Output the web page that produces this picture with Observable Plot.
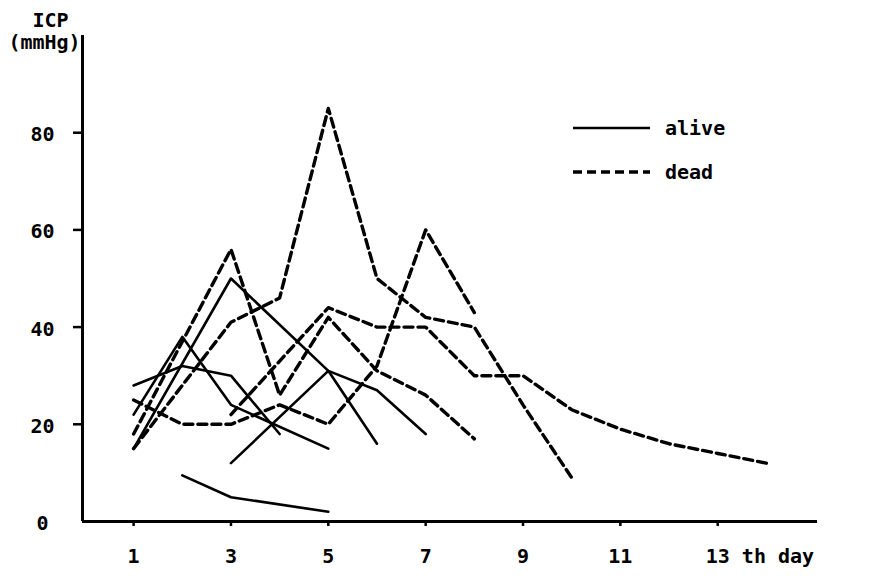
<!DOCTYPE html>
<html>
<head>
<meta charset="utf-8">
<script src="https://cdn.jsdelivr.net/npm/d3@7"></script>
<script src="https://cdn.jsdelivr.net/npm/@observablehq/plot@0.6"></script>
<style>
  body { margin: 0; background: #fff; }
  #wrap { position: relative; width: 870px; height: 578px; font-family: 'DejaVu Sans Mono', monospace; }
  .lg { position: absolute; display: flex; align-items: center; height: 20px; font-size: 20px; font-weight: bold; color: #000; }
  .lg svg { margin-right: 15px; }
</style>
</head>
<body>
<div id="wrap"></div>
<script>
const FONT = "'DejaVu Sans Mono', monospace";

// tick labels / text
const yTickValues = [0, 20, 40, 60, 80];
const yTickMarks = [20, 40, 60, 80];
const xTickValues = [1, 3, 5, 7, 9, 11];
const lastTickDay = 13;
const lastTickLabel = "13 th day";
const yTitleTop = "ICP";
const yTitleBottom = "(mmHg)";
const legendLabels = ["alive", "dead"];

// alive patients (solid lines)
const alive1Days = [1, 2, 3, 4];    const alive1ICP = [28, 32, 30, 18];
const alive2Days = [1, 2, 3, 5];    const alive2ICP = [22, 38, 24, 15];
const alive3Days = [1, 3, 5, 6];    const alive3ICP = [15, 50, 31, 16];
const alive4Days = [3, 5, 6, 7];    const alive4ICP = [12, 31, 27, 18];
const alive5Days = [2, 3, 5];       const alive5ICP = [9.5, 5, 2];

// dead patients (dashed lines)
const dead1Days = [1, 2, 3, 4, 5, 6, 7, 8];           const dead1ICP = [25, 20, 20, 24, 20, 32, 60, 43];
const dead2Days = [1, 3, 4, 5, 6, 7, 8, 9, 10];       const dead2ICP = [15, 41, 46, 85, 50, 42, 40, 24, 9];
const dead3Days = [1, 3, 4, 5, 6, 7, 8];              const dead3ICP = [18, 56, 26, 42, 31, 26, 17];
const dead4Days = [3, 5, 6, 7, 8, 9, 10, 11, 12, 13, 14]; const dead4ICP = [22, 44, 40, 40, 30, 30, 23, 19, 16, 14, 12];

const aliveSeries = [[alive1Days, alive1ICP], [alive2Days, alive2ICP], [alive3Days, alive3ICP], [alive4Days, alive4ICP], [alive5Days, alive5ICP]];
const deadSeries = [[dead1Days, dead1ICP], [dead2Days, dead2ICP], [dead3Days, dead3ICP], [dead4Days, dead4ICP]];

function toRows(list, tag) {
  return list.flatMap(([days, vals], i) => days.map((d, j) => ({day: d, icp: vals[j], id: tag + i})));
}
const aliveRows = toRows(aliveSeries, "a");
const deadRows = toRows(deadSeries, "d");

const W = 870, H = 578, ML = 82, MR = 53, MT = 35, MB = 57;
const frameW = W - ML - MR, frameH = H - MT - MB;
const xDomain = [-0.05, 15.05];
const yDomain = [0, 100];
const DASH = "9,5";
const XTICK = 5, YTICK = 9;

const chart = Plot.plot({
  width: W,
  height: H,
  marginLeft: ML,
  marginRight: MR,
  marginTop: MT,
  marginBottom: MB,
  x: {domain: xDomain, axis: null},
  y: {domain: yDomain, axis: null},
  style: {fontFamily: FONT, background: "white", color: "black"},
  marks: [
    // outward tick marks
    Plot.ruleX([...xTickValues, lastTickDay], {x: d => d, insetTop: frameH - XTICK, dy: XTICK, stroke: "black", strokeWidth: 2.5}),
    Plot.ruleY(yTickMarks, {y: d => d, insetRight: frameW - YTICK, dx: -YTICK, stroke: "black", strokeWidth: 2.5}),
    // axis lines
    Plot.ruleX([xDomain[0]], {stroke: "black", strokeWidth: 3}),
    Plot.ruleY([0], {stroke: "black", strokeWidth: 3}),
    // data
    Plot.line(aliveRows, {x: "day", y: "icp", z: "id", stroke: "black", strokeWidth: 2.6}),
    Plot.line(deadRows, {x: "day", y: "icp", z: "id", stroke: "black", strokeWidth: 3.4, strokeDasharray: DASH}),
    // labels
    Plot.text(yTickValues, {y: d => d, text: d => String(d), frameAnchor: "left", dx: -40, dy: 2, textAnchor: "middle", lineAnchor: "middle", fontSize: 20, fontWeight: "bold", fontFamily: FONT}),
    Plot.text(xTickValues, {x: d => d, text: d => String(d), frameAnchor: "bottom", dy: 35, textAnchor: "middle", lineAnchor: "middle", fontSize: 20, fontWeight: "bold", fontFamily: FONT}),
    Plot.text([lastTickDay], {x: d => d, text: () => lastTickLabel, frameAnchor: "bottom", dy: 35, dx: -12, textAnchor: "start", lineAnchor: "middle", fontSize: 20, fontWeight: "bold", fontFamily: FONT}),
    Plot.text([yTitleTop], {text: d => d, frameAnchor: "top-left", dx: -32, dy: -15, textAnchor: "middle", lineAnchor: "middle", fontSize: 20, fontWeight: "bold", fontFamily: FONT}),
    Plot.text([yTitleBottom], {text: d => d, frameAnchor: "top-left", dx: -38, dy: 7, textAnchor: "middle", lineAnchor: "middle", fontSize: 20, fontWeight: "bold", fontFamily: FONT})
  ]
});

const wrap = document.getElementById("wrap");
wrap.appendChild(chart);

// legend
const legendTops = [118, 162];
legendLabels.forEach((lab, i) => {
  const row = document.createElement("div");
  row.className = "lg";
  row.style.left = "573px";
  row.style.top = legendTops[i] + "px";
  const dash = i === 1 ? ` stroke-dasharray="${DASH}"` : "";
  const sw = i === 1 ? 3.4 : 2.6;
  row.innerHTML = `<svg width="77" height="20"><line x1="0" y1="10" x2="77" y2="10" stroke="black" stroke-width="${sw}"${dash}/></svg><span>${lab}</span>`;
  wrap.appendChild(row);
});
</script>
</body>
</html>
